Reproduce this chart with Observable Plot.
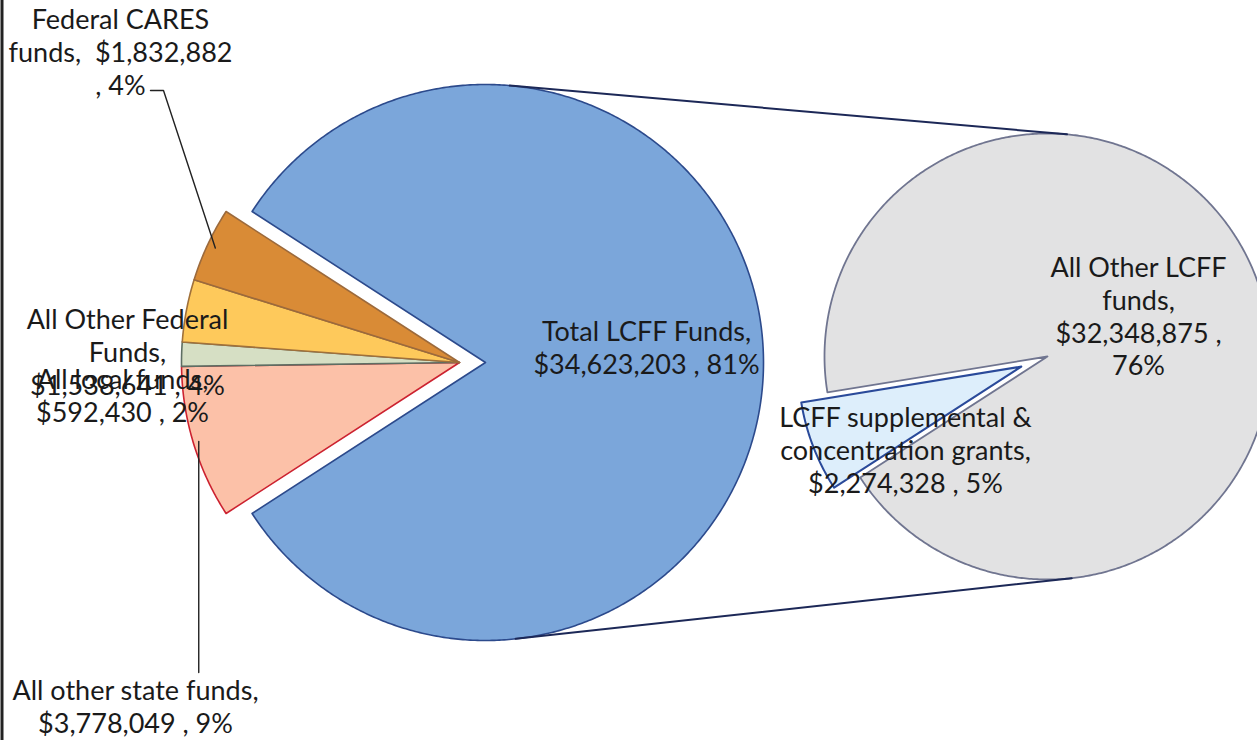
<!DOCTYPE html>
<html><head><meta charset="utf-8">
<script src="https://cdn.jsdelivr.net/npm/d3@7"></script>
<script src="https://cdn.jsdelivr.net/npm/@observablehq/plot@0.6"></script>
<style>
html,body{margin:0;padding:0;background:#fff;overflow:hidden;}
svg text{white-space:pre;}
</style></head><body><div id="chart"></div>
<script>
// ---- data ----
const mainCategories = ["Total LCFF Funds", "Federal CARES funds", "All Other Federal Funds", "All local funds", "All other state funds"];
const mainValues = [34623203, 1832882, 1538641, 592430, 3778049];
const mainPercentLabels = ["81%", "4%", "4%", "2%", "9%"];
const subCategories = ["LCFF supplemental & concentration grants", "All Other LCFF funds"];
const subValues = [2274328, 32348875];
const subPercentLabels = ["5%", "76%"];
const mainColors = ["#7ba6da", "#d98b36", "#fec95b", "#d6dfc4", "#fcc1a8"];
const mainStrokes = ["#2c4a8c", "#9c6a3c", "#a0703a", "#5e6e63", "#cc2230"];
const subColors = ["#ddeefb", "#e2e2e3"];
const subStrokes = ["#2a4a9a", "#707590"];

const fmt = d3.format(",");
const labelTexts = [
  `Total LCFF Funds,\n$${fmt(mainValues[0])} , ${mainPercentLabels[0]}`,
  `Federal CARES\nfunds,  $${fmt(mainValues[1])}\n, ${mainPercentLabels[1]}`,
  `All Other Federal\nFunds,\n$${fmt(mainValues[2])} , ${mainPercentLabels[2]}`,
  `All local funds,\n$${fmt(mainValues[3])} , ${mainPercentLabels[3]}`,
  `All other state funds,\n$${fmt(mainValues[4])} , ${mainPercentLabels[4]}`,
  `LCFF supplemental &\nconcentration grants,\n$${fmt(subValues[0])} , ${subPercentLabels[0]}`,
  `All Other LCFF\nfunds,\n$${fmt(subValues[1])} ,\n${subPercentLabels[1]}`
];

// ---- layout ----
const W = 1257, H = 740;
const R1 = 278, blueC = [485, 362], otherC = [459, 362];
const R2 = 223, subC = [1047, 356], subExplode = 28;
const labelPos = [[646, 346], [120, 51], [127, 351], [122, 394], [135, 705], [905, 449], [1138, 315]];

function wedge(key, cx, cy, r, a0, a1) {
  const pts = [{key, x: cx, y: cy}];
  const n = Math.max(2, Math.ceil(Math.abs(a1 - a0) / 0.5));
  for (let i = 0; i <= n; i++) {
    const a = (a0 + (a1 - a0) * i / n) * Math.PI / 180;
    pts.push({key, x: cx + r * Math.cos(a), y: cy + r * Math.sin(a)});
  }
  return pts;
}
const rad = d => d * Math.PI / 180;

// main pie angles (screen degrees, clockwise)
const total = d3.sum(mainValues);
const G = 360 * (total - mainValues[0]) / total;
const start = 180 - G / 2;
const marks = [];
const slices = [];
slices.push({i: 0, pts: wedge(mainCategories[0], blueC[0], blueC[1], R1, 180 + G / 2, start + 360)});
let a = start;
const mid = {};
for (const i of [4, 3, 2, 1]) {
  const span = 360 * mainValues[i] / total;
  slices.push({i, pts: wedge(mainCategories[i], otherC[0], otherC[1], R1, a, a + span)});
  mid[i] = a + span / 2;
  a += span;
}
for (const s of slices) {
  marks.push(Plot.line(s.pts, {x: "x", y: "y", curve: "linear-closed", fill: mainColors[s.i], stroke: mainStrokes[s.i], strokeWidth: 1.6, strokeLinejoin: "round"}));
}

// secondary pie
const subTotal = d3.sum(subValues);
const sSpan = 360 * subValues[0] / subTotal;
const sMid = start + sSpan / 2;
marks.push(Plot.line(wedge(subCategories[1], subC[0], subC[1], R2, start + sSpan, start + 360), {x: "x", y: "y", curve: "linear-closed", fill: subColors[1], stroke: subStrokes[1], strokeWidth: 1.8, strokeLinejoin: "round"}));
const ex = [subC[0] + subExplode * Math.cos(rad(sMid)), subC[1] + subExplode * Math.sin(rad(sMid))];
marks.push(Plot.line(wedge(subCategories[0], ex[0], ex[1], R2, start, start + sSpan), {x: "x", y: "y", curve: "linear-closed", fill: subColors[0], stroke: subStrokes[0], strokeWidth: 2, strokeLinejoin: "round"}));

// connector lines: external tangents between the two pies
const Dx = subC[0] - blueC[0], Dy = subC[1] - blueC[1];
const d = Math.hypot(Dx, Dy), phi = Math.atan2(Dy, Dx), alpha = Math.acos((R1 - R2) / d);
for (const s of [-1, 1]) {
  const t = phi + s * alpha;
  const seg = [
    {x: blueC[0] + R1 * Math.cos(t), y: blueC[1] + R1 * Math.sin(t)},
    {x: subC[0] + R2 * Math.cos(t), y: subC[1] + R2 * Math.sin(t)}
  ];
  marks.push(Plot.line(seg, {x: "x", y: "y", stroke: "#1c2857", strokeWidth: 2}));
}

// leader lines
const arcPt = (i, k) => ({x: otherC[0] + R1 * k * Math.cos(rad(mid[i])), y: otherC[1] + R1 * k * Math.sin(rad(mid[i]))});
marks.push(Plot.line([{x: 150, y: 90}, {x: 163, y: 90}, arcPt(1, 0.97)], {x: "x", y: "y", stroke: "#222", strokeWidth: 1.4}));
marks.push(Plot.line([{x: arcPt(4, 0.98).x, y: 672}, arcPt(4, 0.98)], {x: "x", y: "y", stroke: "#222", strokeWidth: 1.4}));

// labels
const labels = labelTexts.map((t, i) => ({text: t, x: labelPos[i][0], y: labelPos[i][1]}));
marks.push(Plot.text(labels, {x: "x", y: "y", text: "text", fontSize: 27, fontFamily: "Lato", lineHeight: 1.22, fill: "#1a1a1a", textAnchor: "middle"}));

// left border
marks.push(Plot.ruleX([1.5], {stroke: "#222", strokeWidth: 3}));

const chart = Plot.plot({
  width: W, height: H, margin: 0,
  x: {domain: [0, W], axis: null},
  y: {domain: [0, H], range: [0, H], axis: null},
  style: {background: "#fff", overflow: "hidden"},
  marks
});
document.getElementById("chart").append(chart);
</script></body></html>
